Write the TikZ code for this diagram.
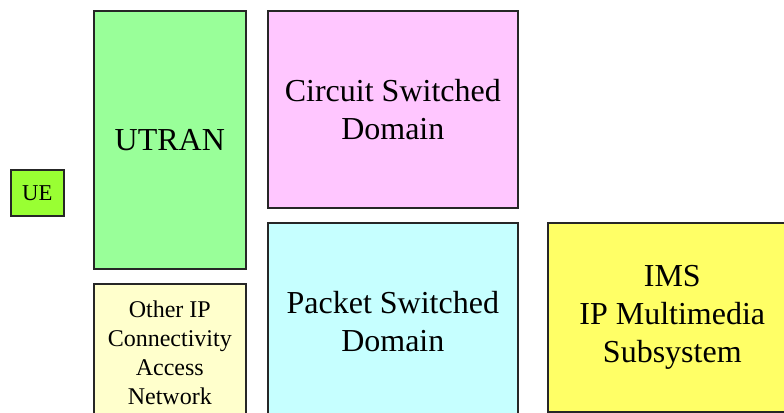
\documentclass[tikz,border=0pt]{standalone}
\usepackage{fontspec}
\setmainfont{Liberation Serif}
\definecolor{boxline}{HTML}{262626}
\definecolor{uefill}{HTML}{99FF33}
\definecolor{utranfill}{HTML}{99FF99}
\definecolor{otherfill}{HTML}{FFFFCC}
\definecolor{csfill}{HTML}{FFC6FF}
\definecolor{psfill}{HTML}{C6FFFF}
\definecolor{imsfill}{HTML}{FFFF66}
\begin{document}
\begin{tikzpicture}[x=0.75pt,y=-0.75pt,
  box/.style={draw=boxline, line width=1.2pt, align=center, inner sep=0pt, anchor=north west},
  bigtext/.style={font=\fontsize{24}{28.5}\selectfont},
  midtext/.style={font=\fontsize{18}{21.75}\selectfont},
  smalltext/.style={font=\fontsize{17}{20}\selectfont}]
\useasboundingbox (0,0) rectangle (784,413);
\clip (0,0) rectangle (784,413);
\node[box, smalltext, fill=uefill, minimum width=39.75pt, minimum height=34.5pt] (ue) at (10,169) {UE};
\node[box, bigtext, fill=utranfill, minimum width=114pt, minimum height=193.5pt] (utran) at (93,10) {UTRAN};
\node[box, midtext, fill=otherfill, minimum width=114pt, minimum height=102.75pt] (other) at (93,283) {Other IP\\Connectivity\\Access\\Network};
\node[box, bigtext, fill=csfill, minimum width=187.5pt, minimum height=147.75pt] (cs) at (267,10) {Circuit Switched\\Domain};
\node[box, bigtext, fill=psfill, minimum width=187.5pt, minimum height=148.5pt] (ps) at (267,222) {Packet Switched\\Domain};
\node[box, bigtext, fill=imsfill, minimum width=186.75pt, minimum height=141.75pt] (ims) at (547,222) {IMS\\IP Multimedia\\Subsystem};
\end{tikzpicture}
\end{document}
